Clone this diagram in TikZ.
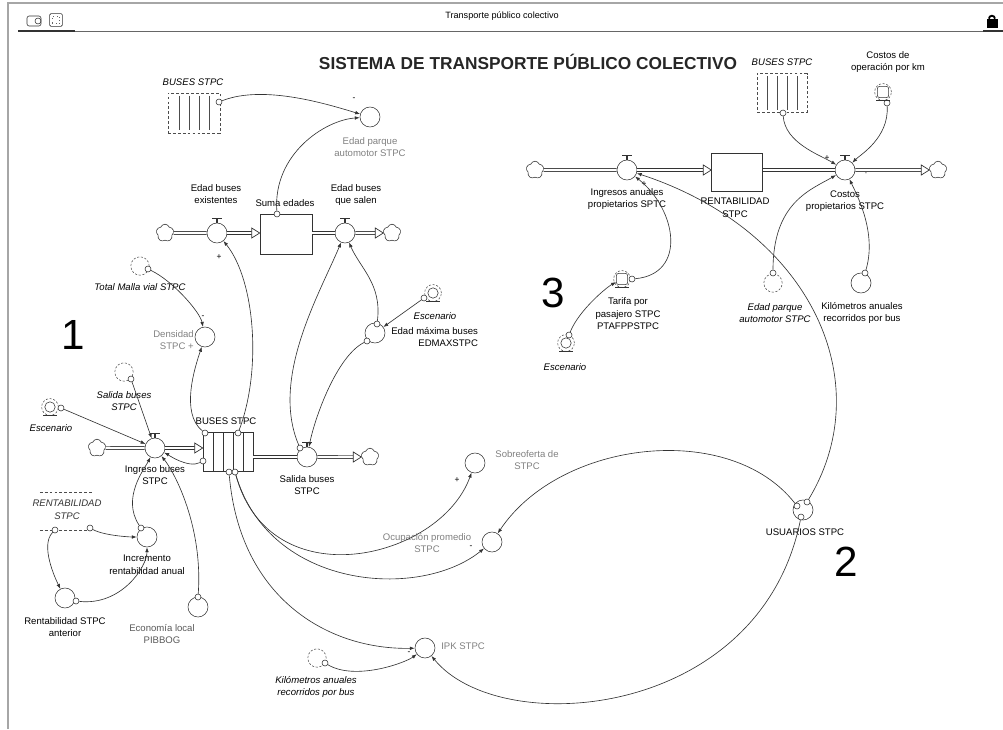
\documentclass[tikz,border=0pt]{standalone}
\usepackage{fontspec}
\setmainfont{Liberation Sans}
\usetikzlibrary{arrows.meta, shapes.symbols}

\begin{document}
\begin{tikzpicture}[
  x=0.025cm, y=-0.025cm,
  font=\fontsize{6.8}{8.9}\selectfont,
  lab/.style={align=center, inner sep=0pt},
  glab/.style={lab, text=black!50},
  ilab/.style={lab, font=\fontsize{6.8}{8.9}\selectfont\itshape},
  aux/.style={circle, draw=black!80, minimum size=5mm, inner sep=0pt},
  ghost/.style={circle, draw=black!70, dash pattern=on 1.5pt off 1.2pt, minimum size=4.6mm, inner sep=0pt},
  valve/.style={circle, draw=black!80, minimum size=5mm, inner sep=0pt},
  stock/.style={rectangle, draw=black!80, minimum width=1.3cm, minimum height=1cm, inner sep=0pt},
  gstock/.style={stock, draw=black!70, dash pattern=on 2pt off 1.5pt},
  sink/.style={cloud, cloud puffs=5, cloud puff arc=140, aspect=1, draw=black!80, minimum size=4.4mm, inner sep=0pt},
  org/.style={circle, draw=black!80, fill=white, minimum size=1.5mm, inner sep=0pt},
  inp/.style={circle, draw=black!80, minimum size=2.6mm, inner sep=0pt},
  inpbox/.style={rectangle, rounded corners=1.5pt, draw=black!80, minimum size=2.8mm, inner sep=0pt},
  pipe/.style={draw=black!80, double=white, double distance=1.5pt, line width=0.5pt},
  link/.style={draw=black!80, line width=0.45pt, -{Latex[length=3.5pt,width=2.6pt]}},
  sign/.style={inner sep=0pt, font=\fontsize{6}{6}\selectfont},
  bignum/.style={inner sep=0pt, font=\fontsize{30}{30}\selectfont},
  flowhead/.pic={\draw[draw=black!80, fill=white, line width=0.5pt] (-8,-5) -- (0,0) -- (-8,5) -- cycle;},
]
  \useasboundingbox (0,0) rectangle (1003,729);
  \draw[black!35, line width=0.8pt] (8,729) -- (8,3) -- (1003,3);
  \draw[black!60, line width=0.6pt] (18,31) -- (1003,31);
  \draw[black!80, line width=1.2pt] (18,31) -- (75,31);
  \draw[black!80, line width=1.2pt] (983,31) -- (1003,31);
  \node[draw=black!80, rounded corners=1.5pt, minimum width=0.35cm, minimum height=0.25cm, inner sep=0pt] (icona) at (34,21) {};
  \node[draw=black!80, circle, minimum size=1.5mm, inner sep=0pt] (iconadot) at (38,21) {};
  \node[draw=black!80, rounded corners=1pt, minimum size=0.32cm, inner sep=0pt] (iconb) at (56,20) {};
  \node[draw=black!60, dotted, minimum size=0.18cm, inner sep=0pt] (iconbin) at (56,20) {};
  \node[draw=black, fill=black, minimum width=0.24cm, minimum height=0.2cm, inner sep=0pt] (lock) at (992,23) {};
  \draw[black, line width=1.3pt] (lock.north west) ++(2,0) arc[start angle=180, end angle=360, radius=3];
  \node (hdr) at (502,16) {\fontsize{6.5}{7}\selectfont Transporte público colectivo};
  \node[text=black!85, font=\fontsize{12.3}{14}\selectfont\bfseries] (title) at (528,62) {SISTEMA DE TRANSPORTE PÚBLICO COLECTIVO};

  \node[bignum] (n1) at (73,335) {1};
  \node[bignum] (n2) at (846,562) {2};
  \node[bignum] (n3) at (553,293) {3};

  \node[gstock] (gbusA) at (194,113) {};
  \foreach \i in {-15,-5,5,15}
    \draw[black!70] ([xshift=\i*0.025cm, yshift=-2pt]gbusA.north) -- ([xshift=\i*0.025cm, yshift=2pt]gbusA.south);
  \node[org] (gbusAo) at (219,102) {};
  \node[ilab] (gbusAlab) at (193,82) {BUSES STPC};
  \node[aux] (edadparque) at (370,117) {};
  \node[glab] (edadparquelab) at (370,147) {Edad parque\\automotor STPC};
  \node[sign] (sg1) at (354,99) {-};

  \node[sink] (c1) at (165,233) {};
  \node[valve] (v1) at (217,233) {};
  \node[stock] (s1) at (286,234) {};
  \node[valve] (v2) at (345,233) {};
  \node[sink] (c2) at (392,233) {};
  \node[org] (s1o) at (277,214) {};
  \node[lab] (v1lab) at (216,194) {Edad buses\\existentes};
  \node[lab] (s1lab) at (285,203) {Suma edades};
  \node[lab] (v2lab) at (356,195) {Edad buses\\que salen};
  \node[sign] (sg2) at (219,257) {+};

  \node[ghost] (tmalla) at (140,266) {};
  \node[org] (tmallao) at (148,269) {};
  \node[ilab] (tmallalab) at (140,287) {Total Malla vial STPC};
  \node[aux] (densidad) at (205,337) {};
  \node[glab, anchor=east, align=right] (densidadlab) at (194,340) {Densidad\\STPC +};
  \node[sign] (sg3) at (203,317) {-};

  \node[aux] (edadmax) at (375,333) {};
  \node[org] (em1) at (367,341) {};
  \node[org] (em2) at (377,324) {};
  \node[lab, anchor=west, align=right] (edadmaxlab) at (391,337) {Edad máxima buses\\EDMAXSTPC};
  \node[inp] (esc1) at (433,293) {};
  \node[ghost, minimum size=4.2mm] (esc1ring) at (433,293) {};
  \node[org] (esc1o) at (424,298) {};
  \node[ilab] (esc1lab) at (435,316) {Escenario};

  \node[ghost] (salghost) at (124,372) {};
  \node[org] (salghosto) at (131,379) {};
  \node[ilab] (salghostlab) at (124,401) {Salida buses\\STPC};
  \node[inp] (esc2) at (50,407) {};
  \node[ghost, minimum size=4.2mm] (esc2ring) at (50,407) {};
  \node[org] (esc2o) at (61,408) {};
  \node[ilab] (esc2lab) at (51,428) {Escenario};

  \node[sink] (c3) at (97,448) {};
  \node[valve] (v3) at (155,448) {};
  \node[stock, minimum width=1.25cm, minimum height=0.97cm] (s2) at (228,452) {};
  \foreach \i in {-15,-5,5,15}
    \draw[black!80] ([xshift=\i*0.025cm]s2.north) -- ([xshift=\i*0.025cm]s2.south);
  \node[valve] (v4) at (307,457) {};
  \node[sink] (c4) at (370,457) {};
  \node[org] (s2a) at (205,433) {};
  \node[org] (s2b) at (238,433) {};
  \node[org] (s2c) at (203,461) {};
  \node[org] (s2d) at (229,472) {};
  \node[org] (s2e) at (235,472) {};
  \node[org] (v4o) at (300,448) {};
  \node[lab] (v3lab) at (155,475) {Ingreso buses\\STPC};
  \node[lab] (s2lab) at (226,421) {BUSES STPC};
  \node[lab] (v4lab) at (307,485) {Salida buses\\STPC};

  \node[lab, font=\fontsize{6.8}{8.9}\selectfont\itshape, text=black!80] (rentghost) at (67,510) {RENTABILIDAD\\STPC};
  \draw[black!70, dash pattern=on 2pt off 1.5pt] ([xshift=-0.68cm, yshift=0.45cm]rentghost.center) -- ++(52,0);
  \draw[black!70, dash pattern=on 2pt off 1.5pt] ([xshift=-0.68cm, yshift=-0.5cm]rentghost.center) -- ++(52,0);
  \node[org] (rg1) at (55,530) {};
  \node[org] (rg2) at (90,528) {};
  \node[aux] (incr) at (147,537) {};
  \node[org] (incro) at (141,528) {};
  \node[lab] (incrlab) at (147,565) {Incremento\\rentabilidad anual};
  \node[aux] (rentant) at (65,598) {};
  \node[org] (rentanto) at (76,601) {};
  \node[lab] (rentantlab) at (65,627) {Rentabilidad STPC\\anterior};
  \node[aux] (econ) at (198,607) {};
  \node[org] (econo) at (198,597) {};
  \node[lab, text=black!65] (econlab) at (162,634) {Economía local\\PIBBOG};

  \node[aux] (sobre) at (475,463) {};
  \node[glab] (sobrelab) at (527,460) {Sobreoferta de\\STPC};
  \node[sign] (sg4) at (457,480) {+};
  \node[aux] (ocup) at (492,542) {};
  \node[glab] (ocuplab) at (427,543) {Ocupación promedio\\STPC};
  \node[sign] (sg5) at (471,547) {-};
  \node[aux] (ipk) at (425,648) {};
  \node[glab, anchor=west] (ipklab) at (441,646) {IPK STPC};
  \node[sign] (sg6) at (409,653) {-};
  \node[ghost] (kmg) at (317,658) {};
  \node[org] (kmgo) at (325,663) {};
  \node[ilab] (kmglab) at (316,687) {Kilómetros anuales\\recorridos por bus};

  \node[aux] (usuarios) at (803,510) {};
  \node[org] (usuA) at (797,506) {};
  \node[org] (usuB) at (807,502) {};
  \node[org] (usuC) at (801,517) {};
  \node[lab] (usuarioslab) at (805,532) {USUARIOS STPC};

  \node[sink] (c5) at (535,170) {};
  \node[valve] (v5) at (627,170) {};
  \node[stock, minimum width=1.27cm, minimum height=0.95cm] (s3) at (737,172) {};
  \node[valve] (v6) at (845,170) {};
  \node[sink] (c6) at (938,170) {};
  \node[lab] (v5lab) at (627,199) {Ingresos anuales\\propietarios SPTC};
  \node[lab] (s3lab) at (735,208) {RENTABILIDAD\\STPC};
  \node[lab] (v6lab) at (845,201) {Costos\\propietarios STPC};
  \node[sign] (sg7) at (644,184) {+};
  \node[sign] (sg8) at (827,158) {+};
  \node[sign] (sg9) at (866,172) {+};

  \node[gstock, minimum width=1.25cm, minimum height=0.97cm] (gbusB) at (782,93) {};
  \foreach \i in {-15,-5,5,15}
    \draw[black!70] ([xshift=\i*0.025cm, yshift=-2pt]gbusB.north) -- ([xshift=\i*0.025cm, yshift=2pt]gbusB.south);
  \node[org] (gbusBo) at (783,113) {};
  \node[ilab] (gbusBlab) at (782,62) {BUSES STPC};
  \node[inpbox] (costo) at (883,92) {};
  \node[ghost, minimum size=4.2mm] (costoring) at (883,92) {};
  \node[org] (costoo) at (887,103) {};
  \node[lab] (costolab) at (888,62) {Costos de\\operación por km};
  \node[ghost] (edadp2) at (773,283) {};
  \node[org] (edadp2o) at (773,273) {};
  \node[ilab] (edadp2lab) at (775,313) {Edad parque\\automotor STPC};
  \node[aux] (km2) at (861,283) {};
  \node[org] (km2o) at (865,273) {};
  \node[lab] (km2lab) at (862,313) {Kilómetros anuales\\recorridos por bus};
  \node[inpbox] (tarifa) at (622,279) {};
  \node[ghost, minimum size=4.2mm] (tarifaring) at (622,279) {};
  \node[org] (tarifao) at (632,279) {};
  \node[lab] (tarifalab) at (628,314) {Tarifa por\\pasajero STPC\\PTAFPPSTPC};
  \node[inp] (esc3) at (566,343) {};
  \node[ghost, minimum size=4.2mm] (esc3ring) at (566,343) {};
  \node[org] (esc3o) at (569,335) {};
  \node[ilab] (esc3lab) at (565,367) {Escenario};

  \foreach \v in {v1,v2,v3,v4,v5,v6}
    \draw[black!80, line width=0.8pt] (\v.north) -- ++(0,-4) ++(-5,0) -- ++(10,0);
  \foreach \v in {esc1,esc2,esc3,tarifa,costo}
    \draw[black!80] ([xshift=-0.17cm, yshift=-0.07cm]\v.south) -- ([xshift=0.17cm, yshift=-0.07cm]\v.south);

  \draw[pipe] (c1) -- (v1);
  \draw[pipe, shorten >=0.2cm] (v1) -- (v1 -| s1.west);
  \pic at (v1 -| s1.west) {flowhead};
  \draw[pipe] (v2 -| s1.east) -- (v2);
  \draw[pipe, shorten >=0.2cm] (v2) -- (c2.west);
  \pic at (c2.west) {flowhead};

  \draw[pipe] (c3) -- (v3);
  \draw[pipe, shorten >=0.2cm] (v3) -- (v3 -| s2.west);
  \pic at (v3 -| s2.west) {flowhead};
  \draw[pipe] (v4 -| s2.east) -- (v4);
  \draw[pipe, shorten >=0.2cm] (v4) -- (c4.west);
  \pic at (c4.west) {flowhead};

  \draw[pipe] (c5) -- (v5);
  \draw[pipe, shorten >=0.2cm] (v5) -- (v5 -| s3.west);
  \pic at (v5 -| s3.west) {flowhead};
  \draw[pipe] (v6 -| s3.east) -- (v6);
  \draw[pipe, shorten >=0.2cm] (v6) -- (c6.west);
  \pic at (c6.west) {flowhead};

  \draw[link] (gbusAo) .. controls +(45,-18) and +(-40,-12) .. (edadparque);
  \draw[link] (s1o) .. controls +(-4,-60) and +(-45,3) .. (edadparque);
  \draw[link] (tmallao) .. controls +(25,12) and +(-5,-25) .. (densidad);
  \draw[link] (s2a) .. controls +(-25,-20) and +(-10,30) .. (densidad);
  \draw[link] (s2b) .. controls +(24,-63) and +(38,47) .. (v1);
  \draw[link] (v4o) .. controls +(-30,-70) and +(-25,60) .. (v2);
  \draw[link] (em1) .. controls +(-30,15) and +(8,-40) .. (v4);
  \draw[link] (em2) .. controls +(5,-40) and +(15,35) .. (v2);
  \draw[link] (esc1o) -- (edadmax);
  \draw[link] (salghosto) -- (v3);
  \draw[link] (esc2o) -- (v3);
  \draw[link] (s2c) .. controls +(-15,8) and +(10,5) .. (v3);
  \draw[link] (incro) .. controls +(-20,-30) and +(-10,20) .. (v3);
  \draw[link] (econo) .. controls +(5,-70) and +(20,25) .. (v3);
  \draw[link] (rg2) .. controls +(15,8) and +(-15,0) .. (incr);
  \draw[link] (rg1) .. controls +(-15,15) and +(-10,-20) .. (rentant);
  \draw[link] (rentanto) .. controls +(45,5) and +(0,30) .. (incr);

  \draw[link] (s2e) .. controls +(35,128) and +(-35,97) .. (sobre);
  \draw[link] (s2e) .. controls +(35,118) and +(-72,58) .. (ocup);
  \draw[link] (s2d) .. controls +(11,128) and +(-95,2) .. (ipk);
  \draw[link] (kmgo) .. controls +(30,18) and +(-20,15) .. (ipk);
  \draw[link] (usuA) .. controls +(-67,-86) and +(68,-102) .. (ocup);
  \draw[link] (usuC) .. controls +(-41,203) and +(75,92) .. (ipk);
  \draw[link] (usuB) .. controls +(73,-121) and +(183,60) .. (v5);

  \draw[link] (gbusBo) .. controls +(2,30) and +(-25,-15) .. (v6);
  \draw[link] (costoo) .. controls +(2,35) and +(15,-15) .. (v6);
  \draw[link] (edadp2o) .. controls +(0,-70) and +(-35,20) .. (v6);
  \draw[link] (km2o) .. controls +(12,-40) and +(12,25) .. (v6);
  \draw[link] (tarifao) .. controls +(55,-5) and +(50,40) .. (v5);
  \draw[link] (esc3o) .. controls +(10,-25) and +(-15,8) .. (tarifa);
\end{tikzpicture}
\end{document}
